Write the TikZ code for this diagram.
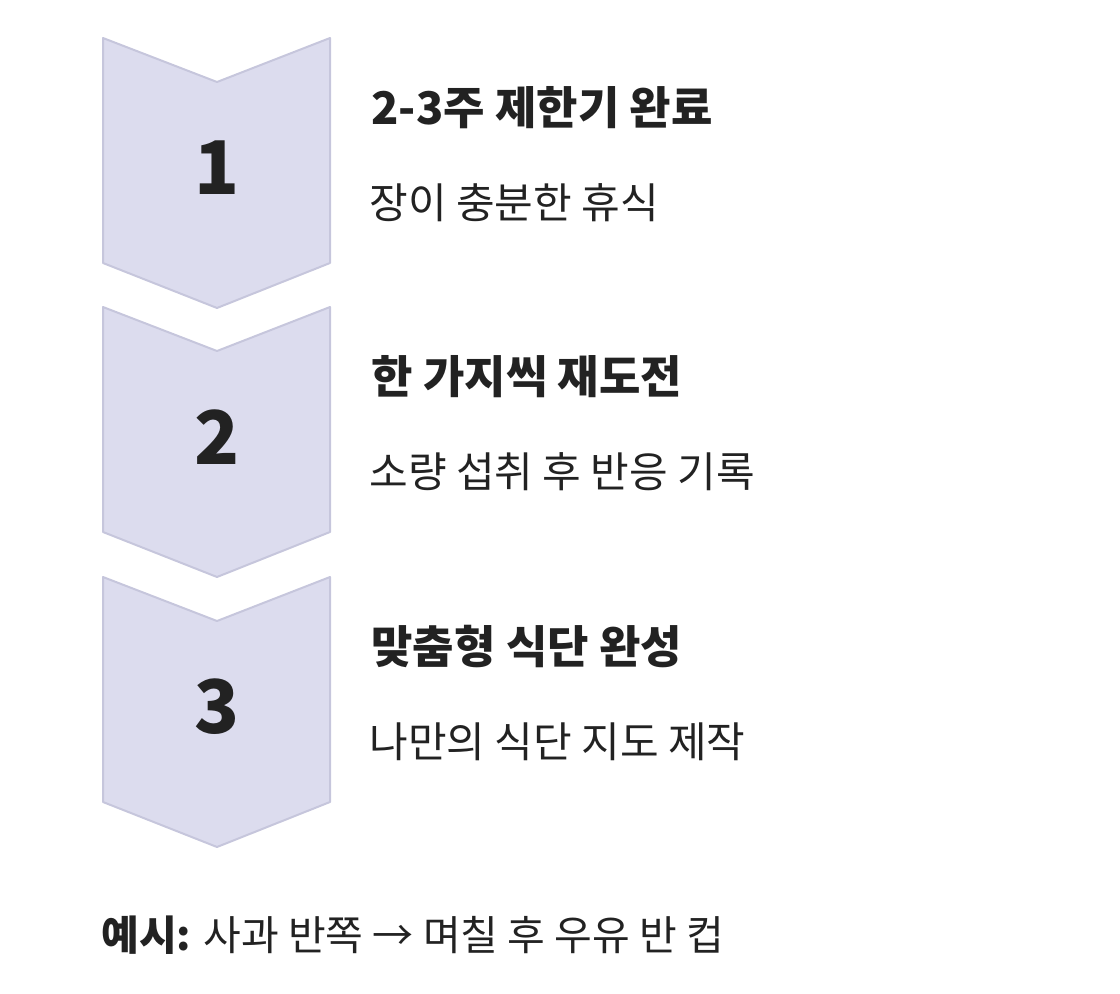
\documentclass[tikz,border=0pt]{standalone}
\usepackage{fontspec}
\setmainfont{Noto Sans CJK KR}
\newfontfamily\krb{Noto Sans CJK KR Black}
\definecolor{chev}{HTML}{DCDCEE}
\definecolor{chevb}{HTML}{C6C6DC}
\definecolor{txt}{HTML}{222222}
\begin{document}
\begin{tikzpicture}[x=1pt,y=-1pt,
  chevron/.style={fill=chev,draw=chevb,line width=2pt,line join=round},
  num/.style={font=\krb\fontsize{74}{80}\selectfont,text=txt},
  ttl/.style={anchor=west,font=\krb\fontsize{45}{48}\selectfont,text=txt},
  sub/.style={anchor=west,font=\fontsize{42}{46}\selectfont,text=txt}]
\useasboundingbox (0,0) rectangle (1120,994);
\foreach \t/\n/\a/\b in {38/1/2-3주 제한기 완료/장이 충분한 휴식, 307/2/한 가지씩 재도전/소량 섭취 후 반응 기록, 577/3/맞춤형 식단 완성/나만의 식단 지도 제작}{
  \draw[chevron] (103,\t) -- (217,\t+44) -- (330,\t) -- (330,\t+225) -- (217,\t+270) -- (103,\t+225) -- cycle;
  \node[num] (n\n) at (217,\t+130) {\n};
  \node[ttl] (t\n) at (368,\t+70) {\a};
  \node[sub] (s\n) at (366,\t+165) {\b};
}
\node[anchor=west,font=\fontsize{41}{44}\selectfont,text=txt] (ex) at (98,935) {{\krb 예시:} 사과 반쪽 → 며칠 후 우유 반 컵};
\end{tikzpicture}
\end{document}
